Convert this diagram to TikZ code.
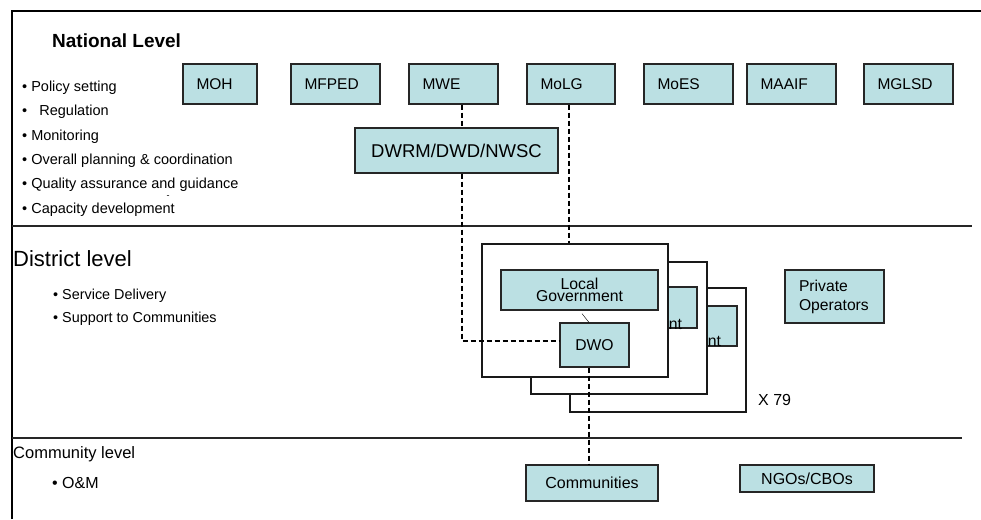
\documentclass[tikz,border=0pt]{standalone}
\usepackage{fontspec}
\setmainfont{Liberation Sans}
\definecolor{boxfill}{RGB}{187,224,227}

\tikzset{
  unit/.style={draw=black!85, fill=boxfill, line width=1.1pt, inner sep=0pt},
  layer/.style={draw=black!90, fill=white, line width=1.1pt, inner sep=0pt},
  link/.style={line width=1.6pt, dash pattern=on 5pt off 3pt},
  bullet/.style={anchor=west, inner sep=0pt, text height=1.5ex, text depth=.25ex},
}

\begin{document}
\begin{tikzpicture}[x=1pt, y=-1pt]
\useasboundingbox (0,0) rectangle (981,519);
% frame and level lines
\draw [line width=2pt] (12,519) -- (12,11) -- (981,11);
\draw [line width=1.3pt, black!85] (12,226) -- (972,226);
\draw [line width=1.3pt, black!85] (12,438) -- (962,438);

% national level
\node [bullet, font=\fontsize{19}{22}\selectfont\bfseries] (natl) at (52,44) {National Level};
\foreach \t [count=\i] in {Policy setting, {~ Regulation}, Monitoring,
    Overall planning \& coordination, Quality assurance and guidance, Capacity development}
  \node [bullet, font=\fontsize{14.5}{16}\selectfont] (nb\i) at (22,{63.6+24.4*\i}) {• \t};
\node [inner sep=0pt, font=\fontsize{9}{9}\selectfont] (stray) at (168,197) {-};

\foreach \nm/\cx/\w [evaluate=\w as \tw using \w-27] in
    {MOH/220/74, MFPED/335.5/89, MWE/453.5/89, MoLG/571/88,
     MoES/688.5/89, MAAIF/791.5/89, MGLSD/908.5/89}
  \node [unit, minimum width=\w pt, minimum height=40pt, text width=\tw pt, align=left,
         font=\fontsize{15.5}{18}\selectfont] (\nm) at (\cx,84) {\nm\\[-2pt]};
\node [unit, minimum width=203pt, minimum height=45pt, font=\fontsize{18.5}{22}\selectfont]
  (DWRM) at (456.5,150.5) {DWRM/DWD/NWSC};

% district level
\node [bullet, font=\fontsize{22}{25}\selectfont] (dist) at (13,263) {District level};
\node [bullet, font=\fontsize{14.4}{16}\selectfont] (db1) at (53,296) {• Service Delivery};
\node [bullet, font=\fontsize{14.4}{16}\selectfont] (db2) at (53,319) {• Support to Communities};

% stacked districts, back to front
\node [layer, minimum width=176pt, minimum height=124pt] (frameC) at (658,350) {};
\node [unit, minimum width=157pt, minimum height=40pt] (lgC) at (658.5,326) {};
\node [align=center, inner sep=0pt, font=\fontsize{15.8}{10.5}\selectfont] (lgCtext) at (677.5,335) {Local\\Government};
\node [layer, minimum width=176pt, minimum height=132pt] (frameB) at (619,328) {};
\node [unit, minimum width=157pt, minimum height=41pt] (lgB) at (618.5,307.5) {};
\node [align=center, inner sep=0pt, font=\fontsize{15.8}{10.5}\selectfont] (lgBtext) at (638.5,318) {Local\\Government};
\node [layer, minimum width=186pt, minimum height=133pt] (frameA) at (575,310.5) {};
\node [unit, minimum width=157pt, minimum height=40pt, align=center,
       font=\fontsize{15.8}{10.5}\selectfont] (lgA) at (579.5,290) {Local\\Government};
\node [unit, minimum width=69pt, minimum height=44pt, font=\fontsize{15.7}{18}\selectfont]
  (DWO) at (594.5,345) {DWO\\[-3pt]};
\node [bullet, font=\fontsize{16}{18}\selectfont] (times) at (758,402) {X 79};

\node [unit, minimum width=99pt, minimum height=53pt, text width=71pt, align=left,
       font=\fontsize{15.7}{19}\selectfont] (priv) at (834.5,296.5) {Private\\Operators};

% community level
\node [bullet, font=\fontsize{16.5}{18}\selectfont] (comm) at (13,455) {Community level};
\node [bullet, font=\fontsize{16}{18}\selectfont] (cb1) at (52,485) {• O\&M};
\node [unit, minimum width=132pt, minimum height=36pt, font=\fontsize{16}{18}\selectfont]
  (Communities) at (592,483) {Communities};
\node [unit, minimum width=134pt, minimum height=27pt, font=\fontsize{16}{18}\selectfont]
  (NGO) at (807,478.5) {NGOs/CBOs};

% connectors
\coordinate (wx) at (462,0);
\coordinate (cx) at (589,0);
\draw [link] (MWE.south -| wx) -- (DWRM.north -| wx);
\draw [link] (DWRM.south -| wx) |- ([yshift=4pt]DWO.west);
\draw [link] ([xshift=-2pt]MoLG.south) -- ([xshift=-2pt]MoLG.south |- frameA.north);
\draw [shorten <=4pt] (lgA.south) -- (DWO.north -| cx);
\draw [link] (DWO.south -| cx) -- (Communities.north -| cx);
\end{tikzpicture}
\end{document}
